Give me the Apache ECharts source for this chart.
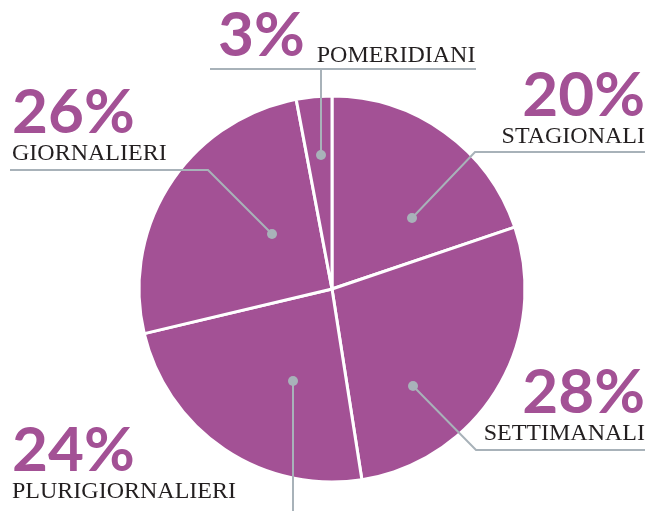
<!DOCTYPE html>
<html>
<head>
<meta charset="utf-8">
<script src="https://cdn.jsdelivr.net/npm/echarts@6/dist/echarts.min.js"></script>
<style>
  html, body { margin: 0; padding: 0; background: #fff; }
  #chart { width: 652px; height: 511px; }
</style>
</head>
<body>
<div id="chart"></div>
<script>
// data, clockwise from 12 o'clock
const categories = ['STAGIONALI', 'SETTIMANALI', 'PLURIGIORNALIERI', 'GIORNALIERI', 'POMERIDIANI']
const values = [20, 28, 24, 26, 3]

const PURPLE = '#a35195'
const GREY = '#a8b2b9'

// label placement: text anchor (baseline of the %) + leader line (dot first)
const labelPos = [
  { x: 645, y: 118, align: 'right', line: [[412, 218], [475, 152], [645, 152]] },
  { x: 645, y: 415, align: 'right', line: [[413, 386], [476, 450], [645, 450]] },
  { x: 12, y: 473, align: 'left', line: [[293, 381], [293, 520], [293, 520]] },
  { x: 12, y: 135, align: 'left', line: [[272, 234], [208, 170], [10, 170]] },
  { x: 218, y: 58, align: 'left', inline: true, line: [[321, 155], [321, 69], [476, 69], [210, 69]] },
]

const pieData = categories.map((c, i) => ({ name: c, value: values[i] }))
const pieBase = { type: 'pie', center: [332, 289], radius: 193, startAngle: 90, clockwise: true, emphasis: { disabled: true } }

const chart = echarts.init(document.getElementById('chart'), null, { renderer: 'canvas' })

chart.setOption({
  animation: false,
  series: [
    {
      ...pieBase,
      z: 2,
      itemStyle: { color: PURPLE, borderColor: '#fff', borderWidth: 3 },
      label: { show: false },
      labelLine: { show: false },
      data: pieData,
    },
    {
      // transparent copy on top, carries labels and leader lines
      ...pieBase,
      z: 5,
      silent: true,
      avoidLabelOverlap: false,
      itemStyle: { color: 'rgba(0,0,0,0)', borderWidth: 0 },
      label: {
        show: true,
        position: 'outside',
        formatter: p => labelPos[p.dataIndex].inline
          ? `{pctI|${p.value}%}{nameI|${p.name}}`
          : `{pct|${p.value}%}\n{name|${p.name}}`,
        rich: {
          pct: { fontFamily: 'Lato', fontWeight: 'bold', fontSize: 62, color: PURPLE, lineHeight: 56 },
          name: { fontFamily: 'Liberation Serif', fontSize: 24, color: '#231f20', lineHeight: 24 },
          pctI: { fontFamily: 'Lato', fontWeight: 'bold', fontSize: 62, color: PURPLE, lineHeight: 62 },
          nameI: { fontFamily: 'Liberation Serif', fontSize: 24, color: '#231f20', lineHeight: 46, verticalAlign: 'bottom', padding: [0, 0, 0, 12] },
        },
      },
      labelLine: { show: true, lineStyle: { color: GREY, width: 2 } },
      labelLayout: params => {
        const l = labelPos[params.dataIndex]
        return {
          x: l.x,
          y: l.inline ? l.y - 52.7 : l.y - 49.7,
          align: l.align,
          verticalAlign: 'top',
          labelLinePoints: l.line,
        }
      },
      data: pieData,
    },
  ],
  graphic: labelPos.map(l => ({
    type: 'circle',
    z: 100,
    shape: { cx: l.line[0][0], cy: l.line[0][1], r: 5 },
    style: { fill: GREY },
  })),
})
</script>
</body>
</html>
